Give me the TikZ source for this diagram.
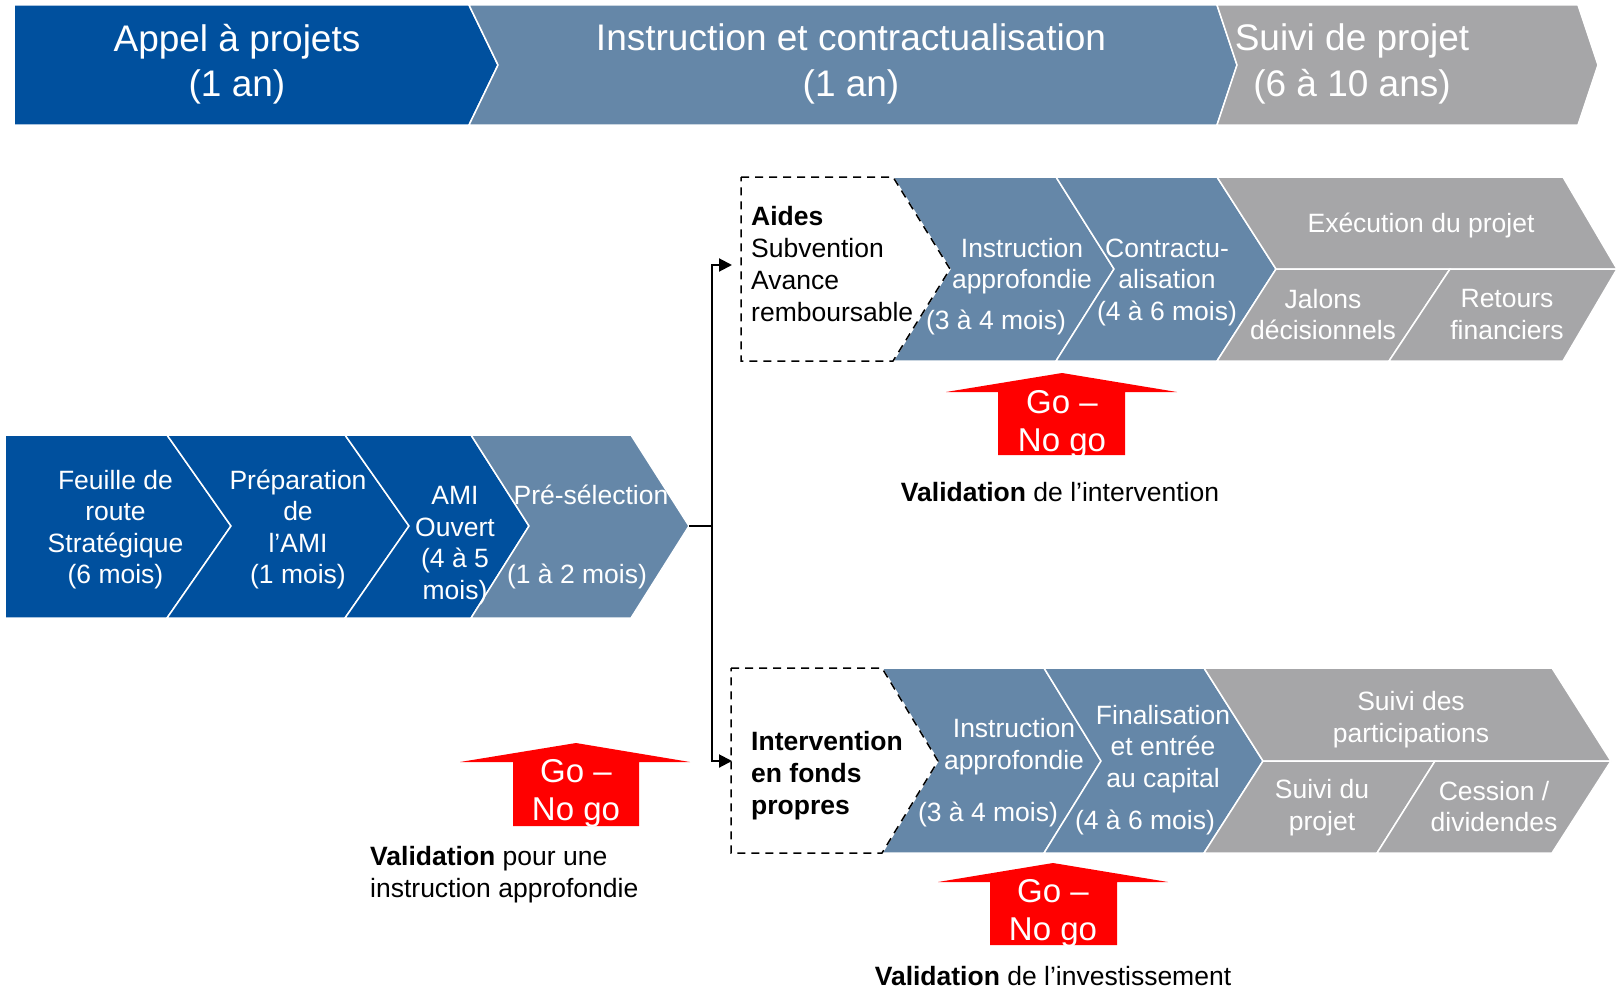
\documentclass[tikz,border=0pt]{standalone}
\usepackage{fontspec}
\setmainfont{Liberation Sans}
\usetikzlibrary{arrows.meta}
\definecolor{dblue}{RGB}{0,80,158}
\definecolor{slate}{RGB}{101,135,168}
\definecolor{lgray}{RGB}{166,166,168}
\definecolor{gored}{RGB}{255,0,0}
\newcommand\fbody{\fontsize{26.5}{31.5}\selectfont}
\newcommand\fbx{\fontsize{26.5}{32}\selectfont}
\newcommand\fhead{\fontsize{37}{45.5}\selectfont}
\newcommand\fgo{\fontsize{33}{38}\selectfont}
\begin{document}
\begin{tikzpicture}[x=1pt,y=-1pt,
  seg/.style={draw=white, line width=1.5pt, line join=miter},
  wtxt/.style={text=white, align=center, font=\fbody, inner sep=0pt, yshift=-2.5pt},
  btxt/.style={text=black, align=left, font=\fbx, inner sep=0pt, anchor=west, yshift=-2.5pt},
  dbox/.style={draw=black, dash pattern=on 8pt off 6pt, line width=1.5pt},
  conn/.style={draw=black, line width=2pt},
  arr/.style={-{Triangle[length=13pt,width=13pt]}},
  gotxt/.style={text=white, align=center, font=\fgo, inner sep=0pt, yshift=-3pt},
  valtxt/.style={text=black, font=\fbx, inner sep=0pt}]

\useasboundingbox (0,0) rectangle (1617,990);
\fill[white] (0,0) rectangle (1617,990);

% ---------- top band ----------
\path[fill=dblue, seg] (14,5) -- (469,5) -- (498,65) -- (469,125) -- (14,125) -- cycle;
\path[fill=slate, seg] (469,5) -- (1217,5) -- (1237,65) -- (1217,125) -- (469,125) -- (498,65) -- cycle;
\path[fill=lgray, seg] (1217,5) -- (1578,5) -- (1598,65) -- (1578,125) -- (1217,125) -- (1237,65) -- cycle;
\node[wtxt, font=\fhead] (t1) at (237,61.5) {Appel à projets\\(1 an)};
\node[wtxt, font=\fhead] (t2) at (851,61.5) {Instruction et contractualisation\\(1 an)};
\node[wtxt, font=\fhead] (t3) at (1352,61.5) {Suivi de projet\\(6 à 10 ans)};

% ---------- left row ----------
\path[fill=dblue, seg] (5,435) -- (167,435) -- (231,526) -- (167,618) -- (5,618) -- cycle;
\path[fill=dblue, seg] (167,435) -- (345,435) -- (409,526) -- (345,618) -- (167,618) -- (231,526) -- cycle;
\path[fill=dblue, seg] (345,435) -- (471,435) -- (529,526) -- (471,618) -- (345,618) -- (409,526) -- cycle;
\path[fill=slate, seg] (471,435) -- (631,435) -- (689,526) -- (631,618) -- (471,618) -- (529,526) -- cycle;
\node[wtxt] (l1) at (115.5,527) {Feuille de\\route\\Stratégique\\(6 mois)};
\node[wtxt] (l2) at (298,527) {Préparation\\de\\l’AMI\\(1 mois)};
\node[wtxt] (l3) at (455,543) {AMI\\Ouvert\\(4 à 5\\mois)};
\node[wtxt] (l4a) at (591,492) {Pré-sélection};
\node[wtxt] (l4b) at (577,574) {(1 à 2 mois)};

% ---------- top row (Aides) ----------
\path[fill=slate, seg] (893,177) -- (1056,177) -- (1114,269) -- (1056,361) -- (893,361) -- (950,269) -- cycle;
\path[fill=slate, seg] (1056,177) -- (1217,177) -- (1276,269) -- (1217,361) -- (1056,361) -- (1114,269) -- cycle;
\path[fill=lgray, seg] (1217,177) -- (1563,177) -- (1617,269) -- (1276,269) -- cycle;
\path[fill=lgray, seg] (1276,269) -- (1450,269) -- (1389,361) -- (1217,361) -- cycle;
\path[fill=lgray, seg] (1450,269) -- (1617,269) -- (1563,361) -- (1389,361) -- cycle;
\path[dbox] (741,177) -- (893,177) -- (950,269) -- (893,361) -- (741,361) -- cycle;
\node[btxt] (aides) at (751,262) {\textbf{Aides}\\Subvention\\Avance\\remboursable};
\node[wtxt] (r1a) at (1022,263.5) {Instruction\\approfondie};
\node[wtxt] (r1b) at (996,320) {(3 à 4 mois)};
\node[wtxt] (r2) at (1167,279.5) {Contractu-\\alisation\\(4 à 6 mois)};
\node[wtxt] (r3) at (1421,223) {Exécution du projet};
\node[wtxt] (r4) at (1323,312) {Jalons\\décisionnels};
\node[wtxt] (r5) at (1507,312) {Retours\\financiers};

% ---------- bottom row (fonds propres) ----------
\path[fill=slate, seg] (882,668) -- (1044,668) -- (1101,761) -- (1044,853) -- (882,853) -- (938,761) -- cycle;
\path[fill=slate, seg] (1044,668) -- (1204,668) -- (1263,761) -- (1204,853) -- (1044,853) -- (1101,761) -- cycle;
\path[fill=lgray, seg] (1204,668) -- (1552,668) -- (1611,761) -- (1263,761) -- cycle;
\path[fill=lgray, seg] (1263,761) -- (1435,761) -- (1377,853) -- (1204,853) -- cycle;
\path[fill=lgray, seg] (1435,761) -- (1611,761) -- (1552,853) -- (1377,853) -- cycle;
\path[dbox] (731,668) -- (882,668) -- (938,761) -- (882,853) -- (731,853) -- cycle;
\node[btxt, font=\fbx\bfseries] (inter) at (751,773) {Intervention\\en fonds\\propres};
\node[wtxt] (b1a) at (1014,744) {Instruction\\approfondie};
\node[wtxt] (b1b) at (988,812) {(3 à 4 mois)};
\node[wtxt] (b2a) at (1163,746.6) {Finalisation\\et entrée\\au capital};
\node[wtxt] (b2b) at (1145,820) {(4 à 6 mois)};
\node[wtxt] (b3) at (1411,717) {Suivi des\\participations};
\node[wtxt] (b4) at (1322,805) {Suivi du\\projet};
\node[wtxt] (b5) at (1494,804) {Cession /\\dividendes};

% ---------- connectors ----------
\coordinate (c4tip) at (689,526);
\coordinate (jn) at (712,526);
\coordinate (jtop) at (712,265);
\coordinate (jbot) at (712,761);
\coordinate (atop) at (732,265);
\coordinate (abot) at (732,761);
\draw[conn] (c4tip) -- (jn);
\draw[conn, arr] (jn) -- (jtop) -- (atop);
\draw[conn, arr] (jn) -- (jbot) -- (abot);

% ---------- go / no go arrows ----------
\fill[gored] (1062,373) -- (1177,392) -- (1125,392) -- (1125,455) -- (998,455) -- (998,392) -- (946,392) -- cycle;
\node[gotxt] (g1) at (1062,421) {Go –\\No go};
\fill[gored] (576,743) -- (690,762) -- (639,762) -- (639,826) -- (513,826) -- (513,762) -- (460,762) -- cycle;
\node[gotxt] (g2) at (576,790) {Go –\\No go};
\fill[gored] (1053,863) -- (1168,882) -- (1117,882) -- (1117,945) -- (990,945) -- (990,882) -- (938,882) -- cycle;
\node[gotxt] (g3) at (1053,910) {Go –\\No go};

\node[valtxt] (v1) at (1060,492) {\textbf{Validation} de l’intervention};
\node[valtxt, anchor=west, align=left] (v2) at (370,875) {\textbf{Validation} pour une\\instruction approfondie};
\node[valtxt] (v3) at (1053,976) {\textbf{Validation} de l’investissement};
\end{tikzpicture}
\end{document}
